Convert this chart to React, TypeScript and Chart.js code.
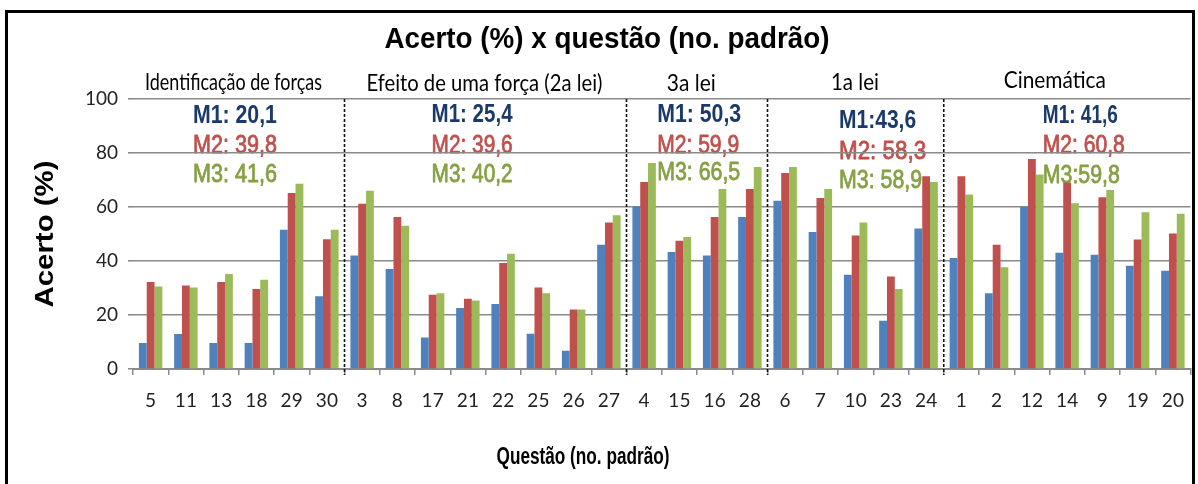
import React, { useEffect, useRef } from 'react';
import { Chart, registerables } from 'chart.js';

Chart.register(...registerables);

// ---------------- data ----------------
const questions = ['5', '11', '13', '18', '29', '30', '3', '8', '17', '21', '22', '25', '26', '27', '4', '15', '16', '28', '6', '7', '10', '23', '24', '1', '2', '12', '14', '9', '19', '20'];

const m1Scores = [9.6, 13, 9.6, 9.6, 51.6, 26.9, 42, 37, 11.7, 22.6, 24.1, 13.1, 6.8, 46, 60.2, 43.3, 42, 56.3, 62.3, 50.7, 34.9, 17.9, 52, 41.1, 28.1, 60.1, 43.1, 42.3, 38.2, 36.4];
const m2Scores = [32.2, 30.9, 32.2, 29.6, 65.2, 48.1, 61.2, 56.3, 27.5, 26, 39.3, 30.2, 22, 54.3, 69.3, 47.5, 56.3, 66.7, 72.6, 63.3, 49.4, 34.3, 71.4, 71.4, 46, 77.8, 69.1, 63.6, 48, 50.2];
const m3Scores = [30.6, 30.2, 35.2, 33.1, 68.6, 51.6, 66, 53.1, 28.1, 25.4, 42.7, 28.1, 22, 56.9, 76.3, 48.9, 66.7, 74.8, 74.8, 66.7, 54.3, 29.6, 69.3, 64.6, 37.7, 72, 61.4, 66.3, 58.1, 57.5];

const groupNames = ['Identificação de forças', 'Efeito de uma força (2a lei)', '3a lei', '1a lei', 'Cinemática'];
const groupSizes = [6, 8, 4, 5, 7];
const m1Means = ['M1: 20,1', 'M1: 25,4', 'M1: 50,3', 'M1:43,6', 'M1: 41,6'];
const m2Means = ['M2: 39,8', 'M2: 39,6', 'M2: 59,9', 'M2: 58,3', 'M2: 60,8'];
const m3Means = ['M3: 41,6', 'M3: 40,2', 'M3: 66,5', 'M3: 58,9', 'M3:59,8'];

const yTickValues = [0, 20, 40, 60, 80, 100];

const titleText = 'Acerto (%) x questão (no. padrão)';
const yTitleText = 'Acerto (%)';
const xTitleText = 'Questão (no. padrão)';

// ---------------- styles / placement ----------------
const BLUE = '#4F81BD';
const RED = '#C0504D';
const GREEN = '#9BBB59';
const M_COLORS = ['#1B3A6B', '#C0504D', '#86A043'];
const GRID = '#8a8a8a';

// header label centre (category index units) and target widths (px)
const headerX = [2.35, 9.47, 15.34, 19.98, 25.65];
const headerBaseline = [90, 91, 91, 90, 88];
const headerWidth = [177, 236, 49, 48, 102];
// stats block: left edge (category index units), baselines (value units), widths (px)
const statLeft = [1.2, 7.97, 14.37, 19.53, 25.31];
const statBase = [
  [91.2, 80.1, 69.4],
  [91.6, 80.1, 69.4],
  [91.6, 80.1, 70.1],
  [89.4, 77.9, 67.1],
  [91.2, 80.1, 69.0],
];
const statWidth = [
  [84, 84, 84],
  [81, 81, 81],
  [84, 82, 83],
  [77, 87, 83],
  [75, 82, 77],
];

function drawFit(
  ctx: CanvasRenderingContext2D,
  text: string,
  x: number,
  y: number,
  font: string,
  width: number,
  align: 'left' | 'center',
  color: string,
  stroke = 0
) {
  ctx.save();
  ctx.font = font;
  ctx.fillStyle = color;
  ctx.strokeStyle = color;
  ctx.textAlign = 'left';
  ctx.textBaseline = 'alphabetic';
  const w = ctx.measureText(text).width || 1;
  const s = width / w;
  const left = align === 'center' ? x - width / 2 : x;
  ctx.translate(left, y);
  ctx.scale(s, 1);
  ctx.fillText(text, 0, 0);
  if (stroke > 0) {
    ctx.lineWidth = stroke;
    ctx.lineJoin = 'round';
    ctx.strokeText(text, 0, 0);
  }
  ctx.restore();
}

const decorPlugin = {
  id: 'decor',
  beforeDraw(chart: any) {
    const ctx: CanvasRenderingContext2D = chart.ctx;
    const xs = chart.scales.x;
    const ys = chart.scales.y;
    ctx.save();
    ctx.fillStyle = '#ffffff';
    ctx.fillRect(0, 0, chart.width, chart.height);
    // frame
    ctx.strokeStyle = '#000';
    ctx.lineWidth = 3;
    ctx.strokeRect(6.5, 11.5, 1187, 700);
    ctx.restore();

    // title
    drawFit(ctx, titleText, 607, 48, 'bold 29px "Liberation Sans", Arial, sans-serif', 445, 'center', '#000');
    // x title
    drawFit(ctx, xTitleText, 583, 464, 'bold 23px "Liberation Sans", Arial, sans-serif', 173, 'center', '#000');
    // y title (rotated)
    ctx.save();
    ctx.translate(44, (chart.chartArea.top + chart.chartArea.bottom) / 2);
    ctx.rotate(-Math.PI / 2);
    drawFit(ctx, yTitleText, 0, 9, 'bold 25px "Liberation Sans", Arial, sans-serif', 147, 'center', '#000');
    ctx.restore();

    // group headers and stats
    groupNames.forEach((name, g) => {
      drawFit(ctx, name, xs.getPixelForValue(headerX[g]), headerBaseline[g], '24px Lato, "Open Sans", sans-serif', headerWidth[g], 'center', '#000');
      const labels = [m1Means[g], m2Means[g], m3Means[g]];
      labels.forEach((t, k) => {
        const font = (k === 0 ? 'bold ' : '') + '25px "Liberation Sans", Arial, sans-serif';
        drawFit(ctx, t, xs.getPixelForValue(statLeft[g]), ys.getPixelForValue(statBase[g][k]), font, statWidth[g][k], 'left', M_COLORS[k], k === 0 ? 0 : 0.8);
      });
    });
  },
  afterDatasetsDraw(chart: any) {
    const ctx: CanvasRenderingContext2D = chart.ctx;
    const xs = chart.scales.x;
    const { top, bottom } = chart.chartArea;
    ctx.save();
    ctx.strokeStyle = '#111';
    ctx.lineWidth = 1.6;
    ctx.setLineDash([3, 2]);
    let idx = 0;
    for (let g = 0; g < groupSizes.length - 1; g++) {
      idx += groupSizes[g];
      const px = (xs.getPixelForValue(idx - 1) + xs.getPixelForValue(idx)) / 2;
      ctx.beginPath();
      ctx.moveTo(px, top);
      ctx.lineTo(px, bottom + 6);
      ctx.stroke();
    }
    ctx.restore();
  },
};

export default function App() {
  const ref = useRef<HTMLCanvasElement | null>(null);

  useEffect(() => {
    document.body.style.margin = '0';
    const canvas = ref.current;
    if (!canvas) return;
    const chart = new Chart(canvas, {
      type: 'bar',
      data: {
        labels: questions,
        datasets: [
          { label: 'M1', data: m1Scores, backgroundColor: BLUE, borderWidth: 0 },
          { label: 'M2', data: m2Scores, backgroundColor: RED, borderWidth: 0 },
          { label: 'M3', data: m3Scores, backgroundColor: GREEN, borderWidth: 0 },
        ],
      },
      options: {
        responsive: false,
        animation: false,
        devicePixelRatio: 1,
        layout: { padding: { top: 99, right: 6, left: 0, bottom: 0 } },
        datasets: { bar: { categoryPercentage: 0.665, barPercentage: 1 } } as any,
        plugins: {
          legend: { display: false },
          tooltip: { enabled: false },
          title: { display: false },
        },
        scales: {
          x: {
            grid: { display: true, drawOnChartArea: false, drawTicks: true, tickLength: 6, color: GRID, lineWidth: 1.5 },
            border: { display: true, color: GRID, width: 2 },
            ticks: { font: { family: 'Lato', size: 19 }, color: '#222', padding: 14, maxRotation: 0, autoSkip: false },
            afterFit: (s: any) => { s.height = 115; },
          },
          y: {
            min: 0,
            max: 100,
            afterBuildTicks: (s: any) => { s.ticks = yTickValues.map((v) => ({ value: v })); },
            grid: { color: GRID, lineWidth: 1.6, tickLength: 5, drawTicks: true },
            border: { display: false },
            ticks: { font: { family: 'Lato', size: 19 }, color: '#222', padding: 10 },
            afterFit: (s: any) => { s.width = 133; },
          },
        },
      },
      plugins: [decorPlugin],
    });
    let alive = true;
    if ((document as any).fonts && (document as any).fonts.load) {
      Promise.all([
        (document as any).fonts.load('19px Lato'),
        (document as any).fonts.load('bold 25px "Liberation Sans"'),
        (document as any).fonts.load('25px "Liberation Sans"'),
      ]).then(() => { if (alive) chart.update(); }).catch(() => {});
    }
    return () => { alive = false; chart.destroy(); };
  }, []);

  return (
    <div style={{ position: 'relative', width: 1198, height: 484 }}>
      <canvas ref={ref} width={1198} height={484} style={{ width: '1198px', height: '484px', display: 'block' }} />
    </div>
  );
}
